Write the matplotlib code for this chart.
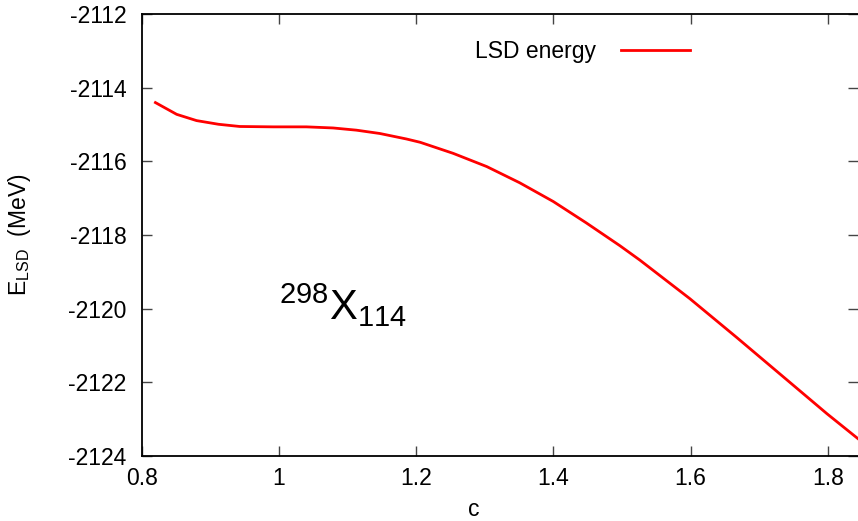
import numpy as np
import matplotlib
matplotlib.use("Agg")
import matplotlib.pyplot as plt

# deformation parameter c and LSD energy (MeV)
c_vals = [0.820, 0.851, 0.880, 0.912, 0.943, 0.992, 1.040, 1.079, 1.113, 1.147,
          1.186, 1.206, 1.254, 1.303, 1.351, 1.400, 1.448, 1.497, 1.526, 1.599,
          1.667, 1.740, 1.799, 1.845]
e_lsd = [-2114.40, -2114.72, -2114.89, -2114.99, -2115.05, -2115.06, -2115.06,
         -2115.09, -2115.15, -2115.24, -2115.39, -2115.48, -2115.78, -2116.14,
         -2116.58, -2117.09, -2117.67, -2118.29, -2118.68, -2119.73, -2120.78,
         -2121.93, -2122.86, -2123.55]

x_ticks = [0.8, 1.0, 1.2, 1.4, 1.6, 1.8]
x_labels = ["0.8", "1", "1.2", "1.4", "1.6", "1.8"]
y_ticks = [-2124, -2122, -2120, -2118, -2116, -2114, -2112]

plt.rcParams["font.family"] = ["Liberation Sans", "DejaVu Sans"]
plt.rcParams["mathtext.fontset"] = "custom"
plt.rcParams["mathtext.rm"] = "Liberation Sans"
plt.rcParams["mathtext.it"] = "Liberation Sans"
plt.rcParams["mathtext.bf"] = "Liberation Sans"

W, H = 858, 521
fig = plt.figure(figsize=(W / 100, H / 100), dpi=100)
ax = fig.add_axes([141.7 / W, 1 - 455.7 / H, 1 - 141.7 / W, (455.7 - 14.3) / H])

ax.plot(c_vals, e_lsd, color="red", linewidth=2.0, label="LSD energy")

ax.set_xlim(0.8, 0.8 + (W - 141.7) / 686.0)
ax.set_ylim(-2124, -2112)
ax.set_xticks(x_ticks)
ax.set_xticklabels(x_labels)
ax.set_yticks(y_ticks)
ax.set_yticklabels([str(v) for v in y_ticks])

fs = 16.5
ax.tick_params(direction="in", length=7, width=1, color="#444444",
               labelsize=fs, top=True, right=True)
ax.tick_params(axis="y", pad=11)
ax.tick_params(axis="x", pad=8)
for side in ["left", "bottom", "top"]:
    ax.spines[side].set_linewidth(1.3)
    ax.spines[side].set_color("black")
ax.spines["right"].set_visible(False)

ax.set_xlabel("c", fontsize=fs)
ax.xaxis.set_label_coords((474 - 141.7) / (W - 141.7), -0.095)
ax.set_ylabel(r"E$_{\mathrm{LSD}}$  (MeV)", fontsize=fs)
ax.yaxis.set_label_coords(-0.152, 0.5)

# nucleus label
ax.text(1.0, -2120.3, r"$^{298}\mathrm{X}_{114}$", fontsize=30, va="baseline", ha="left")

ax.legend(loc="center right", bbox_to_anchor=(690 / W, 1 - 51.7 / H),
          bbox_transform=fig.transFigure, frameon=False, markerfirst=False,
          fontsize=fs, handlelength=3.0, handletextpad=1.1,
          borderpad=0, borderaxespad=0)

fig.savefig("out.png", dpi=100)
